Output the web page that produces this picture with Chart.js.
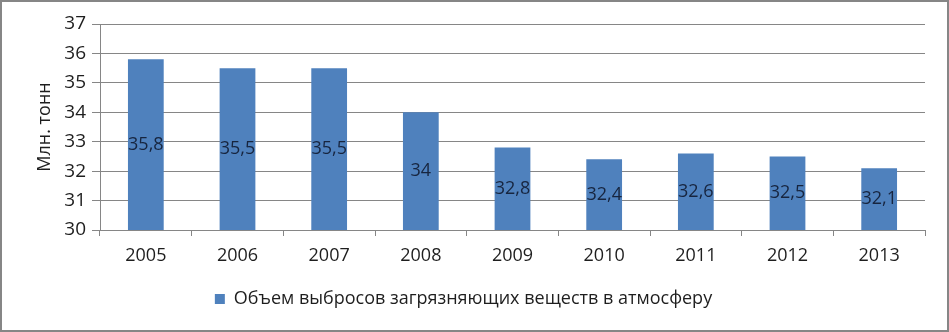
<!DOCTYPE html>
<html>
<head>
<meta charset="utf-8">
<script src="https://cdn.jsdelivr.net/npm/chart.js@4/dist/chart.umd.min.js"></script>
<style>
  html, body { margin: 0; padding: 0; background: #fff; }
  .chart-box { width: 949px; height: 332px; box-sizing: border-box; border: 2px solid #868686; background: #fff; }
  .chart-box canvas { display: block; }
</style>
</head>
<body>
<div class="chart-box"><canvas id="c" width="945" height="328"></canvas></div>
<script>
// years and emission volumes (mln t)
const years = ['2005', '2006', '2007', '2008', '2009', '2010', '2011', '2012', '2013'];
const emissions = [35.8, 35.5, 35.5, 34, 32.8, 32.4, 32.6, 32.5, 32.1];
const seriesName = 'Объем выбросов загрязняющих веществ в атмосферу';
const yTitle = 'Млн. тонн';
const yMin = 30, yMax = 37;

const FONT = "'Open Sans', 'Liberation Sans', sans-serif";
const GRID = '#868686';
const TEXT = '#1e1e1e';

// value labels in the middle of each bar, decimal comma
const barLabels = {
  id: 'barLabels',
  afterDraw(chart) {
    const ctx = chart.ctx;
    const xs = chart.scales.x, ys = chart.scales.y;
    ctx.save();
    ctx.font = '18px ' + FONT;
    ctx.fillStyle = '#17253f';
    ctx.textAlign = 'center';
    ctx.textBaseline = 'middle';
    emissions.forEach((v, i) => {
      const x = xs.getPixelForValue(i);
      const y = (ys.getPixelForValue(v) + ys.getPixelForValue(yMin)) / 2;
      ctx.fillText(String(v).replace('.', ','), x, y);
    });
    ctx.restore();
  }
};

new Chart(document.getElementById('c').getContext('2d'), {
  type: 'bar',
  data: {
    labels: years,
    datasets: [{
      label: seriesName,
      data: emissions,
      backgroundColor: '#4f81bd',
      borderWidth: 0,
      barPercentage: 0.39,
      categoryPercentage: 1,
    }],
  },
  options: {
    responsive: false,
    animation: false,
    layout: { padding: { top: 22, right: 22, bottom: 12, left: 0 } },
    plugins: {
      tooltip: { enabled: false },
      legend: {
        position: 'bottom',
        labels: {
          color: TEXT, boxWidth: 10, boxHeight: 10, padding: 10,
          font: { family: FONT, size: 18 },
        },
      },
    },
    scales: {
      x: {
        grid: { offset: true, drawOnChartArea: false, drawTicks: true, tickLength: 6, color: GRID },
        border: { color: GRID },
        ticks: { color: TEXT, padding: 9, font: { family: FONT, size: 18 } },
        afterFit(s) { s.height = 50; },
      },
      y: {
        min: yMin, max: yMax,
        grid: { color: GRID, tickLength: 8 },
        border: { color: GRID },
        ticks: { stepSize: 1, color: TEXT, padding: 6, font: { family: FONT, size: 19 } },
        title: { display: true, text: yTitle, color: TEXT, padding: { top: 32, bottom: 0 }, font: { family: FONT, size: 18 } },
        afterFit(s) { s.width = 98; },
      },
    },
  },
  plugins: [barLabels],
});
</script>
</body>
</html>
